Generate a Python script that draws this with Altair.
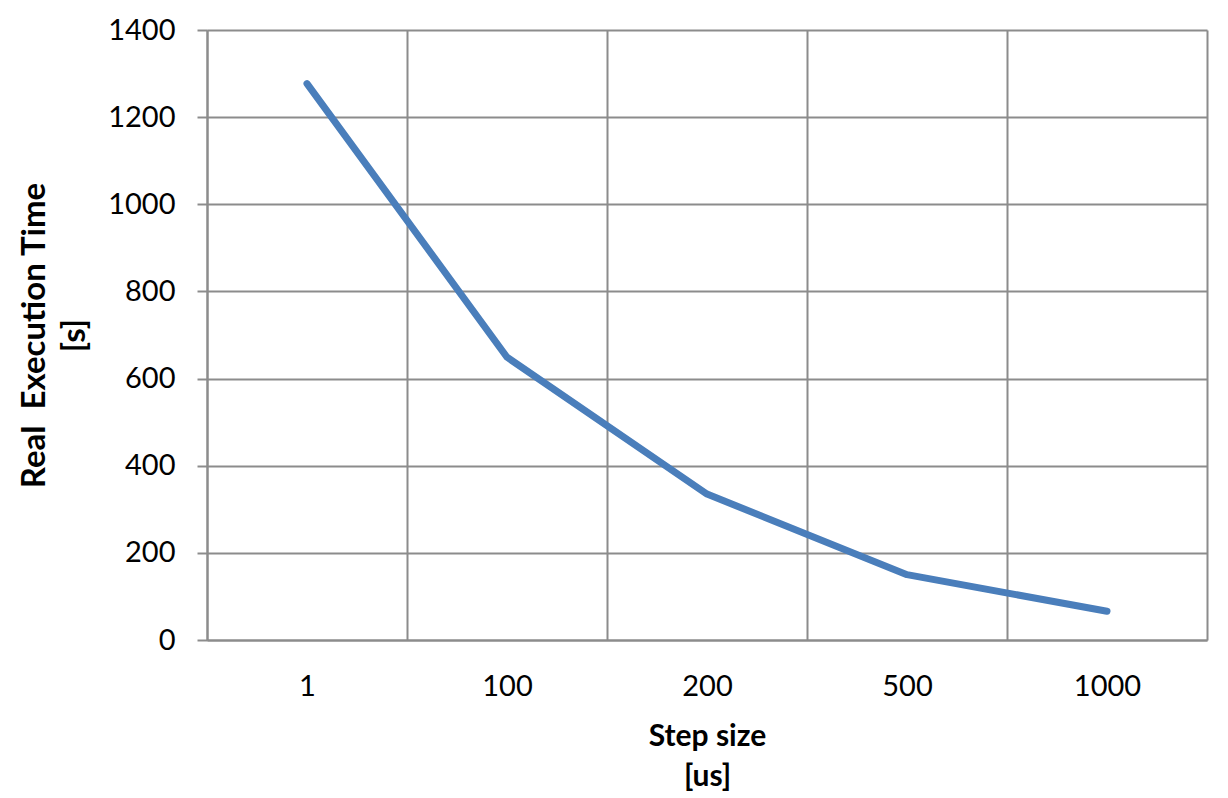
import altair as alt
import pandas as pd

step_sizes = ["1", "100", "200", "500", "1000"]
exec_time = [1277, 649, 335, 150, 66]

df = pd.DataFrame({
    "pos": [i + 0.5 for i in range(len(step_sizes))],
    "step": step_sizes,
    "time": exec_time,
})

FONT = "Lato"
GRID = "#8c8c8c"
cats_js = "[" + ",".join("'%s'" % s for s in step_sizes) + "]"
n = len(step_sizes)
xvals = [i * 0.5 for i in range(2 * n + 1)]

chart = alt.Chart(df).mark_line(
    color="#4a7ebb", strokeWidth=7, strokeCap="round", strokeJoin="round"
).encode(
    x=alt.X(
        "pos:Q",
        scale=alt.Scale(domain=[0, n], nice=False, zero=False),
        axis=alt.Axis(
            values=xvals,
            labelExpr="datum.value % 1 === 0 ? '' : " + cats_js + "[floor(datum.value)]",
            ticks=False,
            tickSize=0,
            grid=True,
            gridColor=GRID,
            gridWidth=2,
            gridOpacity={"condition": {"test": "datum.value % 1 === 0", "value": 1}, "value": 0},
            domainColor=GRID,
            domainWidth=2,
            labelFont=FONT,
            labelFontSize=29,
            labelColor="black",
            labelPadding=32,
            labelFlush=False,
            labelOverlap=False,
            title=["Step size", "[us]"],
            titleFont=FONT,
            titleFontSize=30,
            titleFontWeight="bold",
            titleColor="black",
            titleLineHeight=40,
            titlePadding=20,
        ),
    ),
    y=alt.Y(
        "time:Q",
        scale=alt.Scale(domain=[0, 1400], nice=False),
        axis=alt.Axis(
            values=[0, 200, 400, 600, 800, 1000, 1200, 1400],
            format="d",
            grid=True,
            gridColor=GRID,
            gridWidth=2,
            tickColor=GRID,
            tickWidth=2,
            tickSize=10,
            domainColor=GRID,
            domainWidth=2,
            labelFont=FONT,
            labelFontSize=29,
            labelColor="black",
            labelPadding=22,
            labelFlush=False,
            title=["Real \u00a0Execution Time", "[s]"],
            titleFont=FONT,
            titleFontSize=33,
            titleFontWeight="bold",
            titleColor="black",
            titleLineHeight=40,
            titlePadding=16,
        ),
    ),
).properties(
    width=1000,
    height=610,
    background="white",
    padding={"left": 10, "top": 8, "right": 5, "bottom": 5},
).configure_view(stroke=None)

chart.save("out.html", embed_options={"renderer": "svg", "actions": False})
